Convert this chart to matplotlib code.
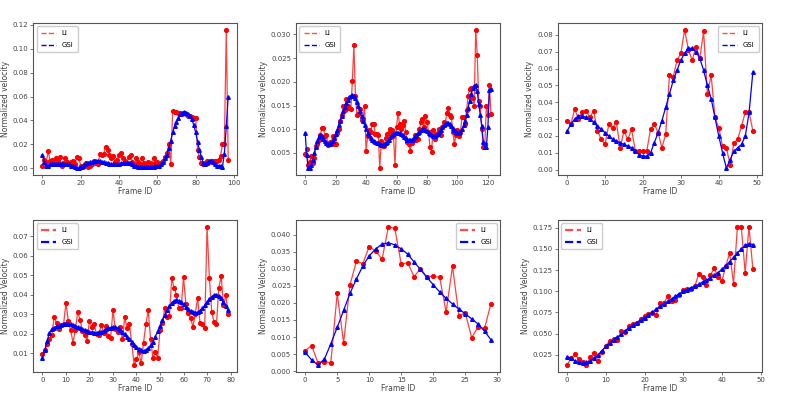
import numpy as np
import matplotlib.pyplot as plt
from matplotlib.lines import Line2D

# === Data ===
li_1 = [0.002, 0.007, 0.005, 0.014, 0.006, 0.007, 0.005, 0.008, 0.006, 0.009,
        0.002, 0.004, 0.008, 0.005, 0.004, 0.005, 0.006, 0.003, 0.009, 0.008,
        0.002, 0.001, 0.003, 0.004, 0.001, 0.002, 0.003, 0.006, 0.004, 0.003,
        0.012, 0.011, 0.012, 0.018, 0.015, 0.011, 0.008, 0.010, 0.005, 0.007,
        0.011, 0.013, 0.008, 0.006, 0.004, 0.009, 0.011, 0.005, 0.003, 0.008,
        0.005, 0.003, 0.008, 0.004, 0.003, 0.005, 0.004, 0.002, 0.008, 0.004,
        0.005, 0.003, 0.004, 0.006, 0.009, 0.013, 0.020, 0.003, 0.048, 0.047,
        0.047, 0.046, 0.046, 0.045, 0.046, 0.045, 0.044, 0.044, 0.043, 0.042,
        0.042, 0.015, 0.009, 0.004, 0.003, 0.004, 0.006, 0.005, 0.006, 0.006,
        0.006, 0.006, 0.007, 0.010, 0.020, 0.020, 0.116, 0.007]
gsi_1 = [0.011, 0.005, 0.002, 0.002, 0.003, 0.003, 0.003, 0.003, 0.003, 0.003,
         0.003, 0.003, 0.003, 0.003, 0.003, 0.002, 0.002, 0.001, 0.000, 0.000,
         0.001, 0.002, 0.003, 0.004, 0.004, 0.005, 0.005, 0.006, 0.006, 0.006,
         0.006, 0.005, 0.005, 0.004, 0.004, 0.003, 0.003, 0.003, 0.003, 0.003,
         0.003, 0.004, 0.004, 0.004, 0.004, 0.004, 0.004, 0.003, 0.002, 0.002,
         0.001, 0.001, 0.001, 0.001, 0.001, 0.001, 0.001, 0.001, 0.001, 0.002,
         0.002, 0.002, 0.003, 0.005, 0.008, 0.011, 0.017, 0.023, 0.030, 0.035,
         0.039, 0.042, 0.045, 0.046, 0.047, 0.046, 0.045, 0.044, 0.041, 0.036,
         0.030, 0.022, 0.015, 0.009, 0.004, 0.003, 0.004, 0.006, 0.006, 0.005,
         0.003, 0.002, 0.002, 0.002, 0.001, 0.012, 0.035, 0.060]

li_2 = [0.0048, 0.0058, 0.0025, 0.0030, 0.0044, 0.0028, 0.0040, 0.0065, 0.0068, 0.0078,
        0.0088, 0.0102, 0.0102, 0.0085, 0.0088, 0.0067, 0.0072, 0.0068, 0.0085, 0.0068,
        0.0068, 0.0093, 0.0100, 0.0118, 0.0130, 0.0148, 0.0140, 0.0163, 0.0150, 0.0145,
        0.0142, 0.0202, 0.0278, 0.0170, 0.0130, 0.0133, 0.0142, 0.0120, 0.0122, 0.0148,
        0.0055, 0.0085, 0.0098, 0.0095, 0.0110, 0.0112, 0.0090, 0.0090, 0.0088, 0.0018,
        0.0075, 0.0065, 0.0065, 0.0082, 0.0090, 0.0092, 0.0100, 0.0098, 0.0085, 0.0025,
        0.0105, 0.0135, 0.0110, 0.0100, 0.0108, 0.0118, 0.0095, 0.0072, 0.0068, 0.0055,
        0.0070, 0.0075, 0.0088, 0.0078, 0.0080, 0.0100, 0.0115, 0.0122, 0.0105, 0.0128,
        0.0115, 0.0095, 0.0062, 0.0052, 0.0098, 0.0080, 0.0090, 0.0092, 0.0100, 0.0088,
        0.0105, 0.0115, 0.0112, 0.0135, 0.0145, 0.0130, 0.0125, 0.0095, 0.0068, 0.0088,
        0.0098, 0.0085, 0.0095, 0.0125, 0.0125, 0.0110, 0.0140, 0.0170, 0.0185, 0.0188,
        0.0165, 0.0150, 0.0310, 0.0257, 0.0160, 0.0150, 0.0100, 0.0063, 0.0068, 0.0150,
        0.0130, 0.0193, 0.0133]
gsi_2 = [0.0093, 0.0045, 0.0018, 0.0018, 0.0025, 0.0035, 0.0050, 0.0062, 0.0075, 0.0083,
         0.0088, 0.0085, 0.0080, 0.0075, 0.0070, 0.0068, 0.0068, 0.0070, 0.0075, 0.0082,
         0.0090, 0.0098, 0.0108, 0.0118, 0.0128, 0.0138, 0.0147, 0.0155, 0.0162, 0.0168,
         0.0171, 0.0172, 0.0170, 0.0165, 0.0157, 0.0148, 0.0138, 0.0128, 0.0118, 0.0108,
         0.0100, 0.0093, 0.0087, 0.0082, 0.0078, 0.0075, 0.0073, 0.0071, 0.0070, 0.0068,
         0.0067, 0.0067, 0.0068, 0.0070, 0.0074, 0.0078, 0.0083, 0.0087, 0.0090, 0.0092,
         0.0093, 0.0093, 0.0092, 0.0090, 0.0087, 0.0084, 0.0081, 0.0078, 0.0077, 0.0077,
         0.0078, 0.0080, 0.0083, 0.0087, 0.0091, 0.0095, 0.0098, 0.0100, 0.0100, 0.0099,
         0.0096, 0.0093, 0.0090, 0.0087, 0.0086, 0.0086, 0.0087, 0.0090, 0.0094, 0.0099,
         0.0104, 0.0108, 0.0111, 0.0113, 0.0113, 0.0111, 0.0107, 0.0102, 0.0098, 0.0095,
         0.0093, 0.0093, 0.0095, 0.0100, 0.0108, 0.0118, 0.0130, 0.0145, 0.0160, 0.0175,
         0.0186, 0.0192, 0.0194, 0.0180, 0.0153, 0.0130, 0.0107, 0.0072, 0.0063, 0.0063,
         0.0104, 0.0182, 0.0185]

li_3 = [0.029, 0.027, 0.036, 0.030, 0.034, 0.035, 0.031, 0.035, 0.023, 0.018,
        0.015, 0.027, 0.025, 0.028, 0.013, 0.023, 0.018, 0.024, 0.011, 0.011,
        0.011, 0.011, 0.024, 0.027, 0.022, 0.013, 0.021, 0.056, 0.055, 0.065,
        0.069, 0.083, 0.071, 0.065, 0.073, 0.066, 0.082, 0.045, 0.056, 0.031,
        0.025, 0.014, 0.013, 0.003, 0.016, 0.018, 0.026, 0.034, 0.034, 0.023]
gsi_3 = [0.023, 0.027, 0.030, 0.032, 0.032, 0.031, 0.030, 0.028, 0.026, 0.024,
         0.022, 0.020, 0.018, 0.017, 0.016, 0.015, 0.014, 0.013, 0.011, 0.009,
         0.008, 0.008, 0.010, 0.016, 0.022, 0.029, 0.037, 0.045, 0.053, 0.059,
         0.065, 0.069, 0.072, 0.072, 0.070, 0.066, 0.059, 0.050, 0.042, 0.031,
         0.020, 0.010, 0.001, 0.006, 0.011, 0.013, 0.015, 0.020, 0.034, 0.058]

li_4 = [0.0098, 0.0115, 0.0148, 0.0175, 0.0195, 0.0285, 0.0255, 0.0225, 0.0245, 0.0250,
        0.0358, 0.0265, 0.0218, 0.0155, 0.0220, 0.0312, 0.0272, 0.0215, 0.0192, 0.0165,
        0.0265, 0.0235, 0.0252, 0.0198, 0.0192, 0.0245, 0.0205, 0.0240, 0.0190, 0.0178,
        0.0322, 0.0225, 0.0210, 0.0235, 0.0172, 0.0285, 0.0228, 0.0248, 0.0150, 0.0040,
        0.0070, 0.0105, 0.0048, 0.0155, 0.0250, 0.0320, 0.0172, 0.0075, 0.0108, 0.0075,
        0.0220, 0.0255, 0.0330, 0.0285, 0.0290, 0.0485, 0.0435, 0.0400, 0.0330, 0.0330,
        0.0492, 0.0350, 0.0305, 0.0282, 0.0235, 0.0302, 0.0385, 0.0255, 0.0250, 0.0228,
        0.0748, 0.0485, 0.0312, 0.0258, 0.0248, 0.0435, 0.0495, 0.0345, 0.0398, 0.0300]
gsi_4 = [0.0075, 0.0115, 0.0165, 0.0205, 0.0225, 0.0232, 0.0238, 0.0242, 0.0245, 0.0248,
         0.0250, 0.0250, 0.0248, 0.0245, 0.0240, 0.0235, 0.0230, 0.0225, 0.0220, 0.0215,
         0.0210, 0.0207, 0.0205, 0.0205, 0.0207, 0.0210, 0.0215, 0.0222, 0.0228, 0.0232,
         0.0235, 0.0233, 0.0228, 0.0220, 0.0210, 0.0198, 0.0185, 0.0172, 0.0158, 0.0145,
         0.0132, 0.0122, 0.0115, 0.0112, 0.0115, 0.0125, 0.0140, 0.0160, 0.0185, 0.0212,
         0.0240, 0.0268, 0.0295, 0.0320, 0.0342, 0.0358, 0.0368, 0.0372, 0.0370, 0.0362,
         0.0350, 0.0337, 0.0325, 0.0315, 0.0310, 0.0308, 0.0310, 0.0318, 0.0330, 0.0345,
         0.0362, 0.0378, 0.0390, 0.0398, 0.0400, 0.0395, 0.0382, 0.0362, 0.0342, 0.0320]

li_5 = [0.0060, 0.0075, 0.0025, 0.0028, 0.0025, 0.0228, 0.0083, 0.0253, 0.0322, 0.0315,
        0.0365, 0.0352, 0.0328, 0.0423, 0.0418, 0.0313, 0.0318, 0.0277, 0.0300, 0.0276,
        0.0278, 0.0275, 0.0173, 0.0307, 0.0163, 0.0170, 0.0098, 0.0130, 0.0125, 0.0198]
gsi_5 = [0.0055, 0.0033, 0.0018, 0.0035, 0.0080, 0.0128, 0.0178, 0.0228, 0.0270, 0.0308,
         0.0338, 0.0358, 0.0372, 0.0376, 0.0370, 0.0358, 0.0343, 0.0320, 0.0298, 0.0275,
         0.0253, 0.0232, 0.0213, 0.0197, 0.0182, 0.0168, 0.0153, 0.0138, 0.0117, 0.0092]

li_6 = [0.013, 0.021, 0.026, 0.020, 0.016, 0.013, 0.022, 0.027, 0.018, 0.028,
        0.036, 0.041, 0.044, 0.042, 0.053, 0.052, 0.059, 0.061, 0.063, 0.067,
        0.071, 0.073, 0.074, 0.072, 0.086, 0.086, 0.094, 0.089, 0.090, 0.095,
        0.101, 0.103, 0.103, 0.106, 0.120, 0.117, 0.107, 0.119, 0.127, 0.117,
        0.112, 0.130, 0.145, 0.109, 0.176, 0.176, 0.122, 0.176, 0.126]
gsi_6 = [0.023, 0.021, 0.018, 0.016, 0.015, 0.016, 0.018, 0.021, 0.025, 0.030,
         0.035, 0.039, 0.043, 0.046, 0.049, 0.053, 0.057, 0.060, 0.063, 0.066,
         0.069, 0.072, 0.075, 0.079, 0.082, 0.085, 0.088, 0.091, 0.094, 0.097,
         0.100, 0.102, 0.104, 0.106, 0.108, 0.111, 0.113, 0.116, 0.119, 0.122,
         0.126, 0.130, 0.135, 0.140, 0.145, 0.150, 0.154, 0.156, 0.155]

panels = [
    (li_1, gsi_1, "Normalized velocity", "upper left", 1.0),
    (li_2, gsi_2, "Normalized velocity", "upper left", 1.0),
    (li_3, gsi_3, "Normalized velocity", "upper right", 1.0),
    (li_4, gsi_4, "Normalized Velocity", "upper left", 1.6),
    (li_5, gsi_5, "Normalized Velocity", "upper right", 1.6),
    (li_6, gsi_6, "Normalized Velocity", "upper left", 1.6),
]

# axes rectangles in figure fractions
lefts = [0.042, 0.375, 0.707]
bottoms = [0.556, 0.056]
w, h = 0.259, 0.386

fig = plt.figure(figsize=(7.89, 3.94), dpi=100)

for i, (li, gsi, ylab, loc, leg_lw) in enumerate(panels):
    ax = fig.add_axes([lefts[i % 3], bottoms[i // 3], w, h])
    x = np.arange(len(li))
    ax.plot(x, li, color="red", alpha=0.75, linewidth=0.9)
    ax.plot(x, li, "o", color="red", markersize=2.7, linestyle="none")
    ax.plot(np.arange(len(gsi)), gsi, color="blue", linewidth=0.9,
            marker="^", markersize=2.6)

    handles = [
        Line2D([], [], color="red", alpha=0.7, linestyle="--", linewidth=leg_lw),
        Line2D([], [], color="blue", linestyle="--", linewidth=leg_lw),
    ]
    ax.legend(handles, ["LI", "GSI"], loc=loc, fontsize=5, handlelength=2.2,
              borderpad=0.6, labelspacing=0.8, framealpha=1, edgecolor="#cccccc")

    ax.set_xlabel("Frame ID", fontsize=5.5, color="#444444", labelpad=1)
    ax.set_ylabel(ylab, fontsize=5.5, color="#444444", labelpad=2)
    ax.tick_params(labelsize=5, colors="#444444", length=2, width=0.5, pad=1.5)
    for s in ax.spines.values():
        s.set_color("#555555")
        s.set_linewidth(0.8)

# panel specific tick formats
axes = fig.axes
axes[0].set_yticks(np.arange(0, 0.121, 0.02))
axes[0].yaxis.set_major_formatter(plt.FormatStrFormatter("%.2f"))
axes[2].set_yticks(np.arange(0, 0.081, 0.01))
axes[2].yaxis.set_major_formatter(plt.FormatStrFormatter("%.2f"))
axes[3].set_yticks(np.arange(0.01, 0.071, 0.01))
axes[3].yaxis.set_major_formatter(plt.FormatStrFormatter("%.2f"))
axes[5].set_yticks(np.arange(0.025, 0.176, 0.025))
axes[5].yaxis.set_major_formatter(plt.FormatStrFormatter("%.3f"))

plt.savefig("out.png", dpi=100)
